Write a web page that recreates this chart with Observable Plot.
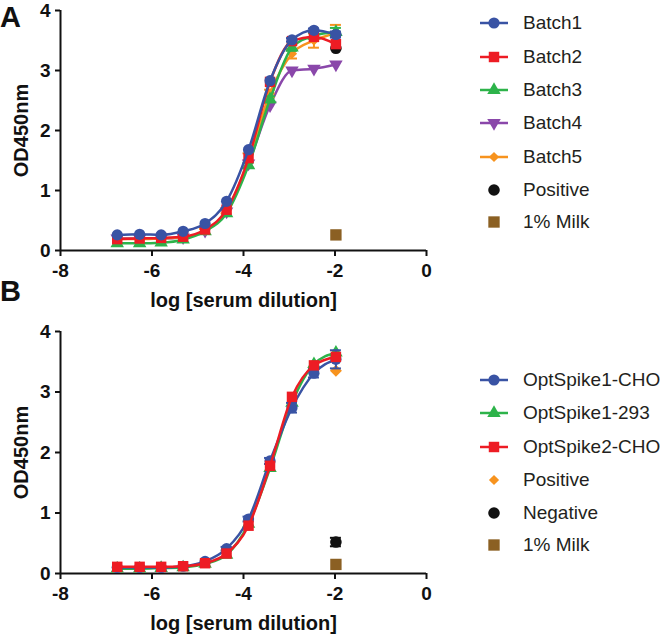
<!DOCTYPE html>
<html><head><meta charset="utf-8">
<script src="https://cdn.jsdelivr.net/npm/d3@7"></script>
<script src="https://cdn.jsdelivr.net/npm/@observablehq/plot@0.6"></script>
<style>
body{margin:0;background:#fff;font-family:"Liberation Sans",Arial,sans-serif;}
#root{position:relative;width:666px;height:637px;overflow:hidden;background:#fff;}
.panel{position:absolute;left:0;}
.plab{position:absolute;left:0;font-weight:bold;font-size:29px;line-height:29px;color:#111;}
.row{position:absolute;left:479px;height:24px;display:flex;align-items:center;white-space:nowrap;font-size:19px;line-height:24px;color:#231f20;}
.row svg{display:block;margin-right:14px;}
</style></head><body><div id="root"></div>
<script>
// ---------- data ----------
const xTicks = [-8, -6, -4, -2, 0];
const yTicks = [0, 1, 2, 3, 4];
const logDilution = [-6.76, -6.27, -5.8, -5.32, -4.84, -4.37, -3.89, -3.42, -2.94, -2.46, -1.98];

// Panel A
const batch1 = [0.26, 0.27, 0.26, 0.32, 0.45, 0.82, 1.68, 2.83, 3.51, 3.67, 3.60];
const batch1Err = [0, 0, 0, 0, 0, 0, 0, 0, 0.03, 0.03, 0.05];
const batch2 = [0.19, 0.20, 0.21, 0.23, 0.35, 0.68, 1.54, 2.81, 3.49, 3.56, 3.44];
const batch3 = [0.12, 0.12, 0.13, 0.18, 0.32, 0.62, 1.42, 2.52, 3.38, 3.58, 3.64];
const batch3Err = [0, 0, 0, 0, 0, 0, 0.04, 0.05, 0.05, 0.05, 0.07];
const batch4 = [0.20, 0.20, 0.20, 0.22, 0.33, 0.65, 1.45, 2.42, 3.00, 3.03, 3.10];
const batch5 = [0.19, 0.19, 0.20, 0.22, 0.33, 0.66, 1.50, 2.62, 3.28, 3.50, 3.62];
const batch5Err = [0, 0, 0, 0, 0.03, 0.04, 0.12, 0.06, 0.08, 0.12, 0.14];
const positiveA = 3.37;
const milkA = 0.26;
const controlX = -1.98;

// Panel B
const opt1CHO = [0.10, 0.10, 0.10, 0.12, 0.20, 0.41, 0.90, 1.86, 2.74, 3.31, 3.54];
const opt1CHOErr = [0, 0, 0, 0, 0, 0.03, 0.04, 0.05, 0.08, 0.07, 0.15];
const opt1_293 = [0.08, 0.08, 0.09, 0.10, 0.16, 0.31, 0.82, 1.74, 2.82, 3.46, 3.65];
const opt2CHO = [0.11, 0.11, 0.11, 0.12, 0.17, 0.33, 0.79, 1.78, 2.92, 3.44, 3.58];
const positiveB = 3.35;
const negativeB = 0.52;
const negativeBErr = 0.07;
const milkB = 0.15;

// ---------- styles ----------
const C = {blue:"#3953a4", red:"#ed1c24", green:"#2db34a", purple:"#8a47aa", orange:"#f7931e", black:"#111111", brown:"#8b6023"};
const SYM = {
  circle:{symbol:"circle", r:5.6, rotate:0},
  square:{symbol:"square", r:5.9, rotate:0},
  tri:{symbol:"triangle", r:5.0, rotate:0},
  triDown:{symbol:"triangle", r:5.0, rotate:180},
  diamondS:{symbol:"diamond2", r:4.6, rotate:0},
  diamondM:{symbol:"diamond2", r:5.4, rotate:0},
  bigCircle:{symbol:"circle", r:5.8, rotate:0},
  bigSquare:{symbol:"square", r:6.4, rotate:0}
};

function seriesRows(name, ys, errs, color, sym) {
  return ys.map((y, i) => ({name, x: logDilution[i], y, e: errs ? errs[i] : 0, color, ...SYM[sym]}));
}

// drawing order: first drawn = bottom
const panelA = {
  curves: [
    {name:"Batch4", rows: seriesRows("Batch4", batch4, null, C.purple, "triDown")},
    {name:"Batch5", rows: seriesRows("Batch5", batch5, batch5Err, C.orange, "diamondS")},
    {name:"Batch3", rows: seriesRows("Batch3", batch3, batch3Err, C.green, "tri")},
    {name:"Batch2", rows: seriesRows("Batch2", batch2, null, C.red, "square")},
    {name:"Batch1", rows: seriesRows("Batch1", batch1, batch1Err, C.blue, "circle")}
  ],
  singles: [
    {name:"1% Milk", x: controlX, y: milkA, e: 0, color: C.brown, ...SYM.bigSquare},
    {name:"Positive", x: controlX, y: positiveA, e: 0, color: C.black, ...SYM.bigCircle}
  ]
};
const panelB = {
  curves: [
    {name:"OptSpike1-293", rows: seriesRows("OptSpike1-293", opt1_293, null, C.green, "tri")},
    {name:"OptSpike1-CHO", rows: seriesRows("OptSpike1-CHO", opt1CHO, opt1CHOErr, C.blue, "circle")},
    {name:"OptSpike2-CHO", rows: seriesRows("OptSpike2-CHO", opt2CHO, null, C.red, "square")}
  ],
  singles: [
    {name:"Positive", x: controlX, y: positiveB, e: 0, color: C.orange, ...SYM.diamondM},
    {name:"Negative", x: controlX, y: negativeB, e: negativeBErr, color: C.black, ...SYM.bigCircle},
    {name:"1% Milk", x: controlX, y: milkB, e: 0, color: C.brown, ...SYM.bigSquare}
  ]
};

const legendA = [
  {label:"Batch1", color:C.blue, sym:"circle", line:true},
  {label:"Batch2", color:C.red, sym:"square", line:true},
  {label:"Batch3", color:C.green, sym:"tri", line:true},
  {label:"Batch4", color:C.purple, sym:"triDown", line:true},
  {label:"Batch5", color:C.orange, sym:"diamondS", line:true},
  {label:"Positive", color:C.black, sym:"bigCircle", line:false},
  {label:"1% Milk", color:C.brown, sym:"bigSquare", line:false}
];
const legendB = [
  {label:"OptSpike1-CHO", color:C.blue, sym:"circle", line:true},
  {label:"OptSpike1-293", color:C.green, sym:"tri", line:true},
  {label:"OptSpike2-CHO", color:C.red, sym:"square", line:true},
  {label:"Positive", color:C.orange, sym:"diamondS", line:false},
  {label:"Negative", color:C.black, sym:"bigCircle", line:false},
  {label:"1% Milk", color:C.brown, sym:"bigSquare", line:false}
];

// ---------- drawing ----------
const root = document.getElementById("root");
const CAP = 0.12;

function pointMarks(rows) {
  const withErr = rows.filter(d => d.e > 0);
  return [
    Plot.ruleX(withErr, {x:"x", y1: d => d.y - d.e, y2: d => d.y + d.e, stroke:"color", strokeWidth:2}),
    Plot.ruleY(withErr, {y: d => d.y + d.e, x1: d => d.x - CAP, x2: d => d.x + CAP, stroke:"color", strokeWidth:2}),
    Plot.ruleY(withErr, {y: d => d.y - d.e, x1: d => d.x - CAP, x2: d => d.x + CAP, stroke:"color", strokeWidth:2}),
    Plot.dot(rows, {x:"x", y:"y", fill:"color", symbol:"symbol", r:"r", rotate:"rotate", stroke:"none"})
  ];
}

function makePanel(p, top, mt, mb) {
  const marks = [];
  marks.push(Plot.ruleY([0], {stroke:"#111", strokeWidth:2}));
  marks.push(Plot.ruleX([-8], {stroke:"#111", strokeWidth:2}));
  marks.push(Plot.axisX({ticks: xTicks, tickSize:6, tickPadding:7, tickFormat: d => String(d), label:null, stroke:"#111", strokeWidth:2, fill:"#111"}));
  marks.push(Plot.axisY({ticks: yTicks, tickSize:5, tickPadding:5, tickFormat: d => String(d), label:null, stroke:"#111", strokeWidth:2, fill:"#111"}));
  marks.push(Plot.text(["OD450nm"], {frameAnchor:"left", dx:-39, rotate:-90, textAnchor:"middle", lineAnchor:"middle", fontSize:20, fontWeight:"bold", fill:"#111"}));
  marks.push(Plot.text(["log [serum dilution]"], {frameAnchor:"bottom", dy:50, textAnchor:"middle", lineAnchor:"middle", fontSize:20, fontWeight:"bold", fill:"#111"}));
  marks.push(...pointMarks(p.singles));
  for (const c of p.curves) {
    marks.push(Plot.line(c.rows, {x:"x", y:"y", stroke: c.rows[0].color, strokeWidth:2.5, curve:"monotone-x"}));
    marks.push(...pointMarks(c.rows));
  }
  const svg = Plot.plot({
    width: 440, height: 315,
    marginTop: mt, marginRight: 14, marginBottom: mb, marginLeft: 60,
    x: {domain: [-8, 0]},
    y: {domain: [0, 4]},
    r: {type: "identity"},
    style: {fontFamily: '"Liberation Sans", Arial, sans-serif', fontSize: "19px", fontWeight: "bold", overflow: "visible", background: "transparent"},
    marks
  });
  svg.classList.add("panel");
  svg.style.top = top + "px";
  root.appendChild(svg);
}

function makeLegend(items, ys) {
  items.forEach((it, i) => {
    const row = document.createElement("div");
    row.className = "row";
    row.style.top = (ys[i] - 12) + "px";
    const s = SYM[it.sym];
    const size = s.r * s.r * Math.PI;
    const sym = {circle:d3.symbolCircle, square:d3.symbolSquare, triangle:d3.symbolTriangle, diamond2:d3.symbolDiamond2}[s.symbol];
    const path = d3.symbol(sym, size)();
    row.innerHTML = `<svg width="30" height="24">${it.line ? `<line x1="1" x2="29" y1="12" y2="12" stroke="${it.color}" stroke-width="2.5"/>` : ""}<path d="${path}" fill="${it.color}" transform="translate(15,12) rotate(${s.rotate})"/></svg><span>${it.label}</span>`;
    root.appendChild(row);
  });
}

makePanel(panelA, 0, 10, 65);
makePanel(panelB, 324, 7, 66);
makeLegend(legendA, [23, 57, 90, 123, 157, 190, 222]);
makeLegend(legendB, [380, 413, 447, 480, 513, 545]);

for (const [t, y] of [["A", 3], ["B", 277]]) {
  const d = document.createElement("div");
  d.className = "plab";
  d.style.top = y + "px";
  d.textContent = t;
  root.appendChild(d);
}
</script></body></html>
